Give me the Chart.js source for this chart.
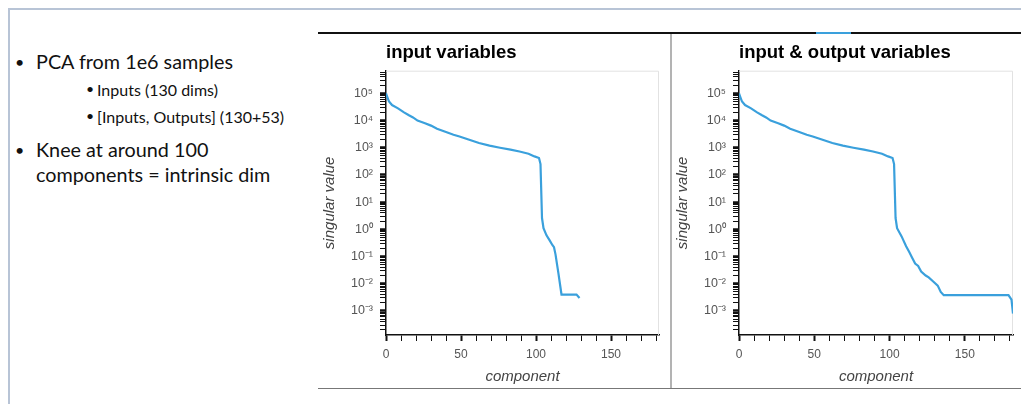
<!DOCTYPE html>
<html>
<head>
<meta charset="utf-8">
<script src="https://cdn.jsdelivr.net/npm/chart.js@4.4.1/dist/chart.umd.min.js"></script>
<style>
  html, body { margin: 0; padding: 0; background: #fff; }
  body { width: 1021px; height: 404px; position: relative; overflow: hidden; }
  .abs { position: absolute; }
  .txt { position: absolute; font-family: Lato, "Open Sans", sans-serif; color: #111; white-space: nowrap; line-height: 1.2; }
  canvas { position: absolute; }
</style>
</head>
<body>
<!-- slide frame -->
<div class="abs" style="left:8px; top:8px; width:1013px; height:2px; background:#b8c4d6;"></div>
<div class="abs" style="left:8px; top:8px; width:2px; height:396px; background:#b8c4d6;"></div>

<!-- bullet text -->
<div class="txt" style="left:15px; top:52px; font-size:16px;">•</div>
<div class="txt" style="left:36px; top:50px; font-size:19.8px;">PCA from 1e6 samples</div>
<div class="txt" style="left:86px; top:81px; font-size:14px;">•</div>
<div class="txt" style="left:97px; top:80px; font-size:16px;">Inputs (130 dims)</div>
<div class="txt" style="left:86px; top:108px; font-size:14px;">•</div>
<div class="txt" style="left:97px; top:107px; font-size:16px;">[Inputs, Outputs] (130+53)</div>
<div class="txt" style="left:15px; top:140px; font-size:16px;">•</div>
<div class="txt" style="left:36px; top:138px; font-size:19.8px;">Knee at around 100</div>
<div class="txt" style="left:36px; top:163px; font-size:19.8px;">components = intrinsic dim</div>

<!-- panel lines -->
<div class="abs" style="left:318px; top:32px; width:703px; height:2px; background:#111;"></div>
<div class="abs" style="left:816px; top:32px; width:35px; height:2px; background:#3aa0dc;"></div>
<div class="abs" style="left:670px; top:34px; width:2px; height:354px; background:#b3b3b3;"></div>
<div class="abs" style="left:318px; top:388px; width:703px; height:1px; background:#777;"></div>

<canvas id="chartInputs" width="353" height="354" style="left:318px; top:34px;"></canvas>
<canvas id="chartInOut" width="350" height="354" style="left:671px; top:34px;"></canvas>

<script>
// input variables (130 dims): component index -> singular value
const inputComponents = [0, 1, 2, 4, 8, 12, 15, 18, 21, 26, 30, 34, 40, 45, 49, 55, 62, 69, 76, 83, 89, 95, 99, 102, 103, 104, 105, 107, 109, 111, 112, 113, 115, 117, 127, 129];
const inputValues = [1.0e5, 7e4, 5e4, 3.7e4, 2.8e4, 2.0e4, 1.6e4, 1.3e4, 1.0e4, 8e3, 6.5e3, 5e3, 3.8e3, 3.0e3, 2.6e3, 2.0e3, 1.5e3, 1.2e3, 1.0e3, 850, 730, 600, 480, 420, 250, 2.6, 1.1, 0.6, 0.4, 0.26, 0.22, 0.12, 0.023, 0.004, 0.004, 0.003];

// input & output variables (130+53 dims)
const inOutComponents = [0, 1, 2, 4, 8, 12, 15, 18, 21, 26, 30, 34, 40, 45, 49, 55, 62, 69, 76, 83, 89, 95, 99, 102, 103, 104, 105, 108, 111, 113, 115, 117, 119, 121, 124, 126, 129, 132, 134, 136, 179, 181, 182];
const inOutValues = [1.0e5, 7e4, 5e4, 3.7e4, 2.8e4, 2.0e4, 1.6e4, 1.3e4, 1.0e4, 8e3, 6.5e3, 5e3, 3.8e3, 3.0e3, 2.6e3, 2.0e3, 1.5e3, 1.2e3, 1.0e3, 850, 730, 600, 480, 420, 250, 2.6, 1.1, 0.55, 0.24, 0.15, 0.09, 0.055, 0.045, 0.028, 0.02, 0.017, 0.012, 0.0085, 0.005, 0.0038, 0.0038, 0.0026, 0.0008];

const xTicks = [0, 10, 20, 30, 40, 50, 60, 70, 80, 90, 100, 110, 120, 130, 140, 150, 160, 170, 180];
const xLabels = [0, 50, 100, 150];
const yDecades = [-4, -3, -2, -1, 0, 1, 2, 3, 4, 5];
const yMin = 1.3e-4, yMax = 6.8e5, xMax = 182;

const lineColor = '#3aa0dc';
const sup = { '0': '⁰', '1': '¹', '2': '²', '3': '³', '4': '⁴', '5': '⁵', '6': '⁶', '7': '⁷', '8': '⁸', '9': '⁹', '-': '⁻' };

const isDecade = (v) => {
    if (!v) return false;
    const l = Math.log10(v);
    return Math.abs(l - Math.round(l)) < 1e-6;
};
const decadeLabel = (v) => '10' + String(Math.round(Math.log10(v))).split('').map(c => sup[c]).join('');

// light frame on top/right of the plot area
const plotFrame = {
    id: 'plotFrame',
    beforeDatasetsDraw(chart) {
        const { left, top, right, bottom } = chart.chartArea;
        const c = chart.ctx;
        c.save();
        c.strokeStyle = '#e2e2e2';
        c.lineWidth = 1;
        c.beginPath();
        c.moveTo(left, top + 0.5);
        c.lineTo(right - 0.5, top + 0.5);
        c.lineTo(right - 0.5, bottom);
        c.stroke();
        c.restore();
    }
};

function makeChart(id, title, comps, values, rightPad) {
    const ctx = document.getElementById(id).getContext('2d');
    return new Chart(ctx, {
        type: 'line',
        data: {
            datasets: [{
                data: comps.map((c, i) => ({ x: c, y: values[i] })),
                borderColor: lineColor,
                borderWidth: 2.2,
                pointRadius: 0,
                tension: 0,
                fill: false
            }]
        },
        options: {
            responsive: false,
            devicePixelRatio: 1,
            animation: false,
            layout: { padding: { left: 0, right: rightPad, top: 0, bottom: 0 } },
            plugins: {
                legend: { display: false },
                tooltip: { enabled: false },
                title: {
                    display: true,
                    text: title,
                    align: 'start',
                    fullSize: false,
                    color: '#000',
                    font: { family: '"Liberation Sans", Arial, sans-serif', size: 18.5, weight: 'bold' },
                    padding: { top: 8, bottom: 6.5 }
                }
            },
            scales: {
                x: {
                    type: 'linear',
                    min: 0,
                    max: xMax,
                    afterBuildTicks: (scale) => { scale.ticks = xTicks.map(v => ({ value: v })); },
                    afterFit: (scale) => { scale.height = 53; },
                    border: { color: '#111', width: 1.5 },
                    grid: {
                        drawOnChartArea: false,
                        tickLength: 6,
                        tickColor: '#111',
                        tickWidth: (c) => (c.tick && xLabels.includes(c.tick.value) ? 2 : 1)
                    },
                    ticks: {
                        autoSkip: false,
                        maxRotation: 0,
                        padding: 6,
                        color: '#555',
                        font: { family: '"Liberation Sans", Arial, sans-serif', size: 12 },
                        callback: (v) => (xLabels.includes(v) ? String(v) : '')
                    },
                    title: {
                        display: true,
                        text: 'component',
                        color: '#444',
                        font: { family: '"Liberation Sans", Arial, sans-serif', size: 15, style: 'italic' },
                        padding: { top: 0, bottom: 2 }
                    }
                },
                y: {
                    type: 'logarithmic',
                    min: yMin,
                    max: yMax,
                    afterBuildTicks: (scale) => {
                        const ticks = [];
                        yDecades.forEach(d => {
                            for (let k = 1; k <= 9; k++) {
                                const v = Number((k * Math.pow(10, d)).toPrecision(6));
                                if (v >= yMin && v <= yMax) ticks.push({ value: v, major: k === 1 });
                            }
                        });
                        scale.ticks = ticks;
                    },
                    afterFit: (scale) => { scale.width = 68; },
                    border: { color: '#111', width: 1.5 },
                    grid: {
                        drawOnChartArea: false,
                        tickLength: 6,
                        tickColor: '#111',
                        tickWidth: (c) => (c.tick && isDecade(c.tick.value) ? 2.5 : 1)
                    },
                    ticks: {
                        autoSkip: false,
                        padding: 7,
                        color: '#555',
                        font: { family: '"Liberation Sans", Arial, sans-serif', size: 12.5 },
                        callback: (v) => (isDecade(v) ? decadeLabel(v) : '')
                    },
                    title: {
                        display: true,
                        text: 'singular value',
                        color: '#444',
                        font: { family: '"Liberation Sans", Arial, sans-serif', size: 15, style: 'italic' },
                        padding: { top: 3, bottom: 0 }
                    }
                }
            }
        },
        plugins: [plotFrame]
    });
}

makeChart('chartInputs', 'input variables', inputComponents, inputValues, 12);
makeChart('chartInOut', 'input & output variables', inOutComponents, inOutValues, 8);
</script>
</body>
</html>
